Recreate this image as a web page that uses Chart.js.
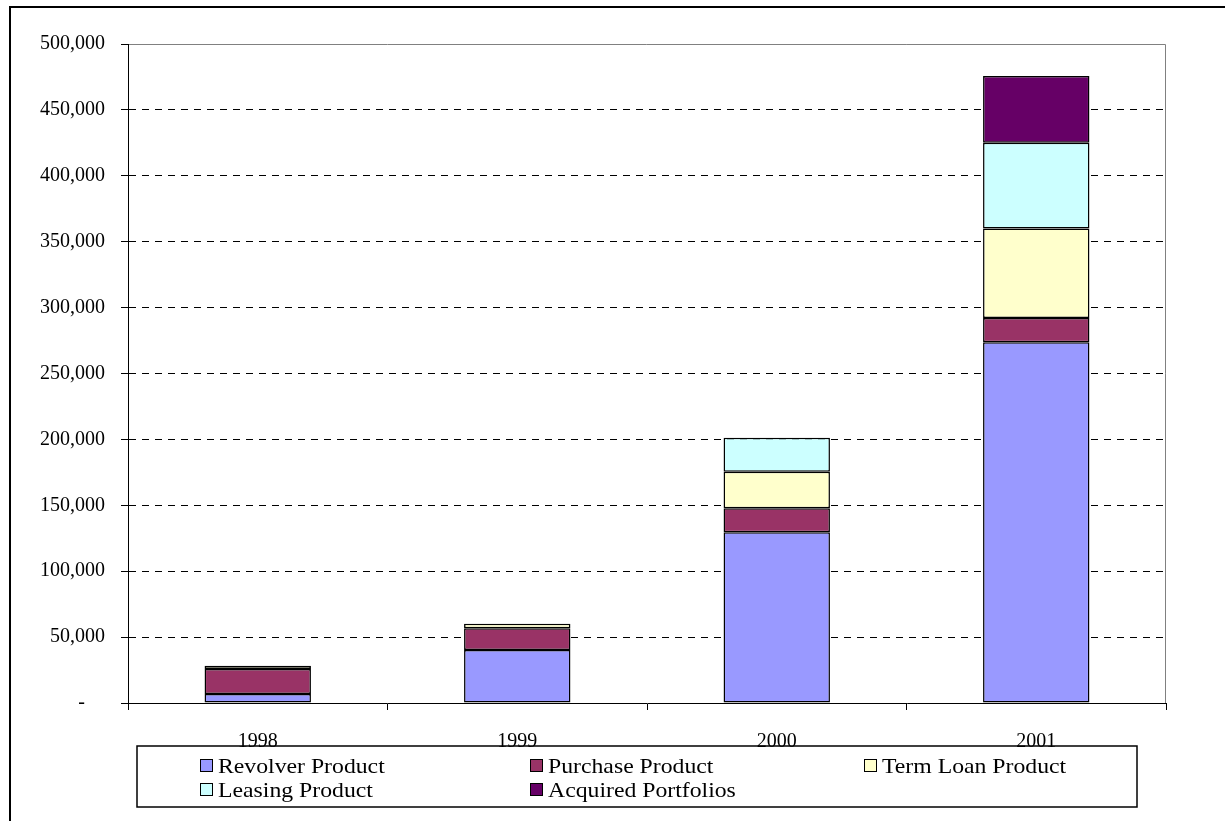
<!DOCTYPE html>
<html>
<head>
<meta charset="utf-8">
<script src="https://cdn.jsdelivr.net/npm/chart.js@4/dist/chart.umd.min.js"></script>
<style>
html,body{margin:0;padding:0;background:#fff;}
#wrap{width:1225px;height:821px;position:relative;}
</style>
</head>
<body>
<div id="wrap"><canvas id="c" width="1225" height="821"></canvas></div>
<script>
const categories = ['1998', '1999', '2000', '2001'];
const revolverProduct = [6800, 40200, 129500, 273700];
const purchaseProduct = [19000, 16500, 18200, 18400];
const termLoanProduct = [2500, 3500, 27800, 68000];
const leasingProduct = [null, null, 25800, 65000];
const acquiredPortfolios = [null, null, null, 50600];
const seriesNames = ['Revolver Product', 'Purchase Product', 'Term Loan Product', 'Leasing Product', 'Acquired Portfolios'];
const seriesColors = ['#9999FF', '#993366', '#FFFFCC', '#CCFFFF', '#660066'];
const yTickMax = 500000;
const yTickStep = 50000;

const FONT = "'Liberation Serif', 'Times New Roman', serif";

const seriesData = [revolverProduct, purchaseProduct, termLoanProduct, leasingProduct, acquiredPortfolios];

const framePlugin = {
  id: 'frame',
  beforeDraw(chart) {
    const ctx = chart.ctx;
    ctx.save();
    ctx.fillStyle = '#fff';
    ctx.fillRect(0, 0, chart.width, chart.height);
    ctx.strokeStyle = '#000';
    ctx.lineWidth = 2;
    ctx.beginPath();
    ctx.moveTo(10, chart.height);
    ctx.lineTo(10, 7);
    ctx.lineTo(chart.width, 7);
    ctx.stroke();
    const a = chart.chartArea;
    ctx.strokeStyle = '#808080';
    ctx.lineWidth = 1;
    ctx.beginPath();
    ctx.moveTo(a.left, a.top + 0.5);
    ctx.lineTo(a.right - 0.5, a.top + 0.5);
    ctx.lineTo(a.right - 0.5, a.bottom);
    ctx.stroke();
    ctx.restore();
  }
};

const legendPlugin = {
  id: 'boxLegend',
  afterDraw(chart) {
    const ctx = chart.ctx;
    ctx.save();
    ctx.strokeStyle = '#000';
    ctx.lineWidth = 1.5;
    ctx.strokeRect(137, 746, 1000, 61);
    const cols = [200, 530, 864];
    const rows = [766, 790];
    ctx.font = '21px ' + FONT;
    ctx.textBaseline = 'middle';
    ctx.textAlign = 'left';
    chart.data.datasets.forEach((ds, i) => {
      const x = cols[i % 3];
      const y = rows[Math.floor(i / 3)];
      ctx.fillStyle = ds.backgroundColor;
      ctx.fillRect(x, y - 7, 13, 13);
      ctx.lineWidth = 1;
      ctx.strokeStyle = '#000';
      ctx.strokeRect(x + 0.5, y - 6.5, 12, 12);
      ctx.fillStyle = '#000';
      ctx.save();
      ctx.translate(x + 18, y + 1);
      ctx.scale(1.13, 1);
      ctx.fillText(ds.label, 0, 0);
      ctx.restore();
    });
    ctx.restore();
  }
};

new Chart(document.getElementById('c'), {
  type: 'bar',
  data: {
    labels: categories,
    datasets: seriesNames.map((name, i) => ({
      label: name,
      data: seriesData[i],
      backgroundColor: seriesColors[i],
      borderColor: '#000',
      borderWidth: 1.5,
      borderSkipped: false,
      categoryPercentage: 1,
      barPercentage: 0.41
    }))
  },
  options: {
    responsive: false,
    animation: false,
    layout: { padding: { left: 0, top: 44, right: 59, bottom: 0 } },
    plugins: { legend: { display: false }, tooltip: { enabled: false } },
    scales: {
      x: {
        stacked: true,
        afterFit(s) { s.height = 118; },
        grid: { offset: true, drawOnChartArea: false, drawTicks: true, tickLength: 7, color: '#000', tickColor: '#000' },
        border: { display: true, color: '#000', width: 1 },
        ticks: { color: '#000', font: { family: FONT, size: 20 }, padding: 20, maxRotation: 0 }
      },
      y: {
        stacked: true,
        min: 0,
        max: yTickMax,
        afterFit(s) { s.width = 128; },
        grid: {
          drawOnChartArea: true,
          drawTicks: true,
          tickLength: 7,
          color: (c) => (c.tick && c.tick.value === yTickMax) ? '#808080' : '#000',
          tickColor: '#000'
        },
        border: { display: true, color: '#000', width: 1, dash: [7, 6] },
        ticks: {
          stepSize: yTickStep,
          color: '#000',
          font: { family: FONT, size: 20 },
          padding: 16,
          callback: (v) => v === 0 ? '-    ' : v.toLocaleString('en-US')
        }
      }
    }
  },
  plugins: [framePlugin, legendPlugin]
});
</script>
</body>
</html>
